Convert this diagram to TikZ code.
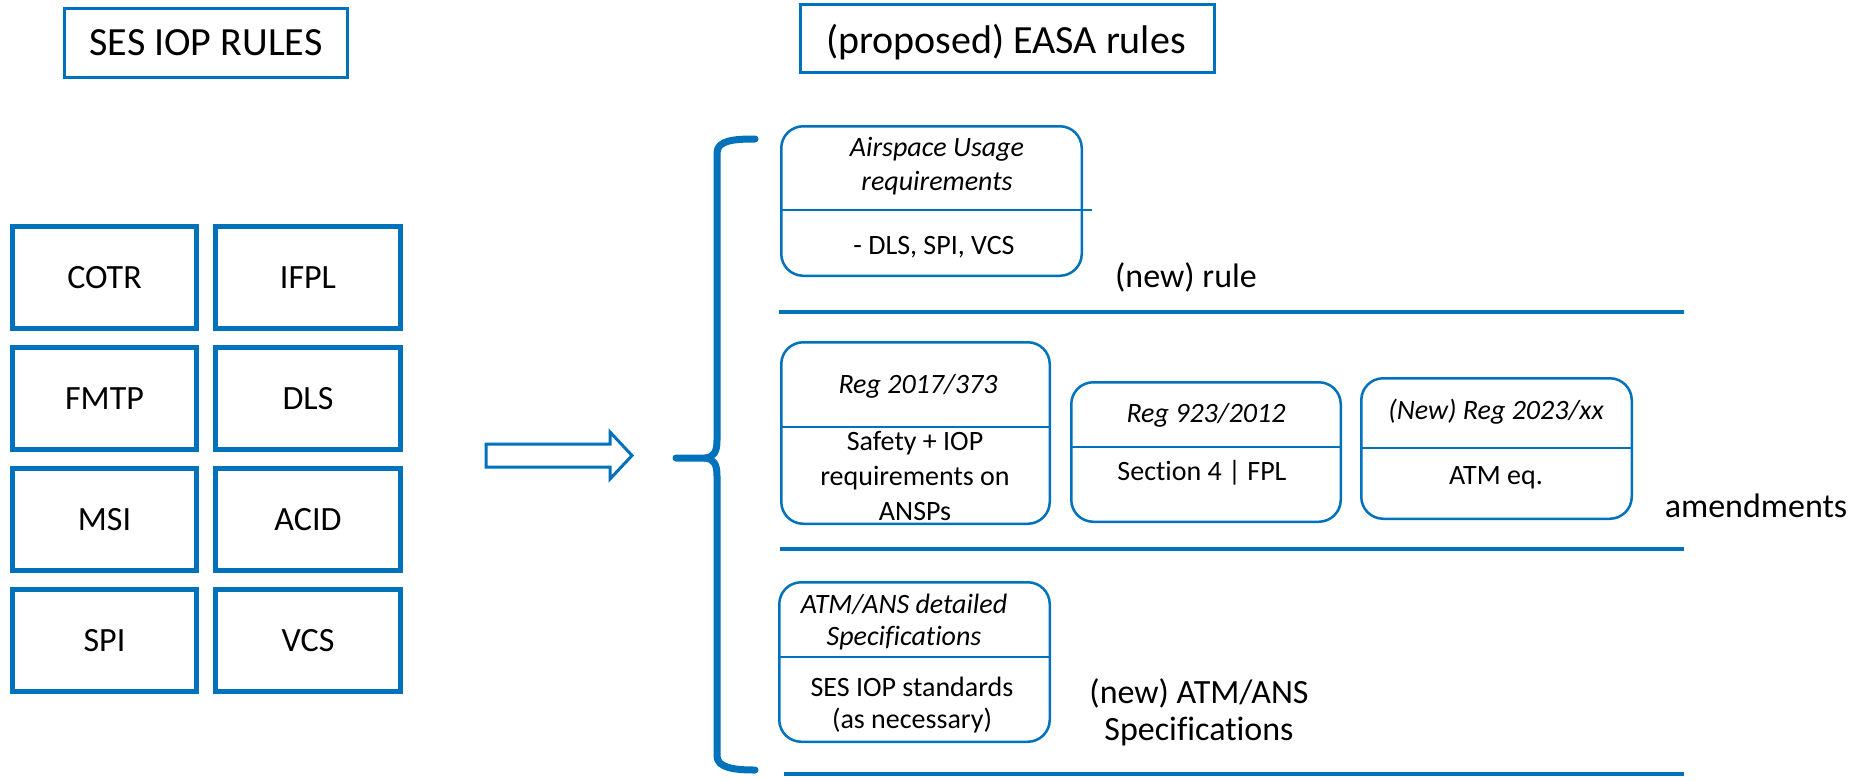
\documentclass[tikz,border=0pt]{standalone}
\usepackage{fontspec}
\setmainfont{Carlito}[Ligatures={NoCommon}]
\definecolor{eblue}{RGB}{0,114,188}
\newcommand\fHead{\fontsize{40}{48}\selectfont}
\newcommand\fCell{\fontsize{34}{40}\selectfont}
\newcommand\fSide{\fontsize{34}{37}\selectfont}
\newcommand\fBox{\fontsize{28}{34}\selectfont}
\newcommand\fBoxB{\fontsize{28}{35}\selectfont}
\newcommand\fBoxC{\fontsize{28}{32}\selectfont}
\begin{document}
\begin{tikzpicture}[x=1pt,y=-1pt,
  hdr/.style={draw=eblue, line width=3pt, inner sep=0pt},
  cell/.style={draw=eblue, line width=5pt, minimum width=184pt, minimum height=102pt, inner sep=0pt, font=\fCell},
  rbox/.style={draw=eblue, line width=2.5pt, rounded corners=22pt, inner sep=0pt},
  divider/.style={eblue, line width=2.5pt},
  sepline/.style={eblue, line width=3.5pt},
  lbl/.style={anchor=base, inner sep=0pt, align=center, font=\fBox},
  ilbl/.style={lbl, font=\fBox\itshape},
  side/.style={anchor=base, inner sep=0pt, align=center, font=\fSide}]
\useasboundingbox (0,0) rectangle (1854,780);

% headers
\node[hdr, minimum width=283pt, minimum height=69pt, font=\fHead] (ses) at (206,43) {SES IOP RULES};
\node[hdr, minimum width=414pt, minimum height=68pt] (easa) at (1007.5,38.5) {};
\node[anchor=base, inner sep=0pt, font=\fHead] (easaT) at (1006,53) {(proposed) EASA rules};

% grid of rules
\node[cell] (cotr) at (104.5,277.5) {COTR};
\node[cell, minimum width=185pt] (ifpl) at (308,277.5) {IFPL};
\node[cell] (fmtp) at (104.5,398.5) {FMTP};
\node[cell, minimum width=185pt] (dls) at (308,398.5) {DLS};
\node[cell] (msi) at (104.5,519.5) {MSI};
\node[cell, minimum width=185pt] (acid) at (308,519.5) {ACID};
\node[cell] (spi) at (104.5,640.5) {SPI};
\node[cell, minimum width=185pt] (vcs) at (308,640.5) {VCS};

% block arrow
\draw[eblue, line width=3pt, fill=white, line join=miter]
  (486,444) -- (610,444) -- (610,432) -- (632,455.5) -- (610,479) -- (610,467) -- (486,467) -- cycle;

% brace
\draw[eblue, line width=7pt, line cap=round, line join=round]
  (755,139) .. controls (735,139) and (717,140) .. (717,153)
  -- (717,440) .. controls (717,452) and (714,457) .. (705,458)
  -- (676,458);
\draw[eblue, line width=7pt, line cap=round, line join=round]
  (705,458) .. controls (714,459) and (717,464) .. (717,476)
  -- (717,756) .. controls (717,768) and (735,770) .. (755,770);

% new rule box
\node[rbox, minimum width=300.5pt, minimum height=149.5pt] (air) at (931.5,201) {};
\draw[divider] (781,210) -- (1092,210);
\node[ilbl] (airT) at (937,190) {Airspace Usage\\requirements};
\node[lbl] (airB) at (934,254) {- DLS, SPI, VCS};
\node[side] (newrule) at (1186,287) {(new) rule};

% amendments boxes
\node[rbox, minimum width=268.5pt, minimum height=181.5pt] (r17) at (915.5,433) {};
\draw[divider] (781,427) -- (1050,427);
\node[ilbl] (r17T) at (918,393) {Reg 2017/373};
\node[lbl, font=\fBoxB] (r17B) at (915,520) {Safety + IOP\\requirements on\\ANSPs};

\node[rbox, minimum width=269.5pt, minimum height=139.5pt] (r923) at (1206,452) {};
\draw[divider] (1071,447) -- (1341,447);
\node[ilbl] (r923T) at (1206,422) {Reg 923/2012};
\node[lbl] (r923B) at (1202,480) {Section 4 | FPL};

\node[rbox, minimum width=270.5pt, minimum height=140.5pt] (rnew) at (1496.5,448.5) {};
\draw[divider] (1361,448) -- (1632,448);
\node[ilbl] (rnewT) at (1496,419) {(New) Reg 2023/xx};
\node[lbl] (rnewB) at (1496,484) {ATM eq.};
\node[side] (amend) at (1756,517) {amendments};

% specifications box
\node[rbox, minimum width=270.5pt, minimum height=159.5pt] (atm) at (914.5,662) {};
\draw[divider] (779,657) -- (1050,657);
\node[ilbl, font=\fBoxC\itshape] (atmT) at (904,645) {ATM/ANS detailed\\Specifications};
\node[lbl, font=\fBoxC] (atmB) at (912,728) {SES IOP standards\\(as necessary)};
\node[side] (newspec) at (1199,740) {(new) ATM/ANS\\Specifications};

% separator lines
\draw[sepline] (779,312) -- (1684,312);
\draw[sepline] (780,549) -- (1684,549);
\draw[sepline] (784,774) -- (1684,774);
\end{tikzpicture}
\end{document}
